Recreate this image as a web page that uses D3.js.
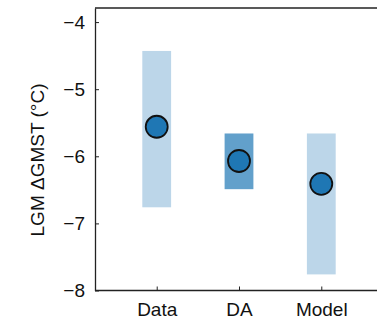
<!DOCTYPE html>
<html>
<head>
<meta charset="utf-8">
<script src="https://cdn.jsdelivr.net/npm/d3@7"></script>
<style>
  body { margin: 0; background: #fff; }
  svg { display: block; font-family: "Liberation Sans", Arial, Helvetica, sans-serif; }
</style>
</head>
<body>
<script>
const categories = ["Data", "DA", "Model"];
const lowValues  = [-6.76, -6.49, -7.76];
const highValues = [-4.43, -5.66, -5.66];
const meanValues = [-5.56, -6.07, -6.41];
const yTicks = [-8, -7, -6, -5, -4];

const width = 377;
const height = 321;
const lightBar = "#bcd6e9";
const darkBar = "#62a0cb";
const dotColor = "#1f77b4";

const rows = categories.map((c, i) => ({
  name: c, pos: i + 1,
  low: lowValues[i], high: highValues[i], mean: meanValues[i]
}));

const x = d3.scaleLinear().domain([0.25, 3.75]).range([95, 383]);
const y = d3.scaleLinear().domain([-8, -3.79]).range([290.5, 8]);
const barW = x(1.35) - x(1);

const svg = d3.select("body").append("svg")
  .attr("width", width)
  .attr("height", height);

svg.append("g")
  .selectAll("rect")
  .data(rows)
  .join("rect")
    .attr("x", d => x(d.pos) - barW / 2)
    .attr("width", barW)
    .attr("y", d => y(d.high))
    .attr("height", d => y(d.low) - y(d.high))
    .attr("fill", d => d.name === "DA" ? darkBar : lightBar);

svg.append("g")
  .selectAll("circle")
  .data(rows)
  .join("circle")
    .attr("cx", d => x(d.pos))
    .attr("cy", d => y(d.mean))
    .attr("r", 11)
    .attr("fill", dotColor)
    .attr("stroke", "#111")
    .attr("stroke-width", 1.8);

// top frame line
svg.append("line")
  .attr("x1", x.range()[0]).attr("x2", width)
  .attr("y1", y.range()[1]).attr("y2", y.range()[1])
  .attr("stroke", "#222").attr("stroke-width", 1.3);

const yAxis = svg.append("g")
  .attr("transform", `translate(${x.range()[0]},0)`)
  .call(d3.axisLeft(y).tickValues(yTicks).tickFormat(d3.format("d"))
    .tickSizeInner(-4).tickSizeOuter(0).tickPadding(10));

const xAxis = svg.append("g")
  .attr("transform", `translate(0,${y.range()[0]})`)
  .call(d3.axisBottom(x).tickValues(rows.map(d => d.pos))
    .tickFormat((d, i) => categories[i])
    .tickSizeInner(-4).tickSizeOuter(0).tickPadding(12.5));

xAxis.select(".domain").attr("d", `M${x.range()[0]},0H${width}`);

[yAxis, xAxis].forEach(g => {
  g.select(".domain").attr("stroke", "#222").attr("stroke-width", 1.3);
  g.selectAll(".tick line").attr("stroke", "#222").attr("stroke-width", 1);
  g.selectAll(".tick text").attr("font-size", 19).attr("fill", "#111")
    .attr("font-family", "Liberation Sans, Arial, sans-serif");
});

svg.append("text")
  .attr("transform", "translate(44,160) rotate(-90)")
  .attr("text-anchor", "middle")
  .attr("font-size", 19)
  .attr("fill", "#111")
  .text("LGM ΔGMST (°C)");
</script>
</body>
</html>
